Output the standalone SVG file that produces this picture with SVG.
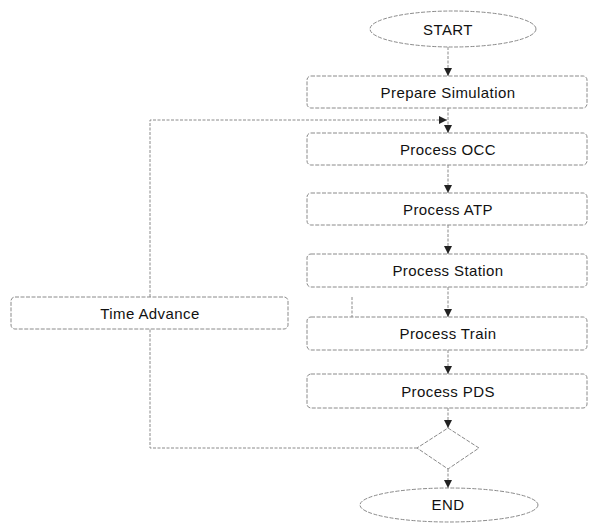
<svg xmlns="http://www.w3.org/2000/svg" width="593" height="525" viewBox="0 0 593 525">
<style>
.shape{fill:#fff;stroke:#8a8a8a;stroke-width:1;stroke-dasharray:4 1.5}
.conn{fill:none;stroke:#8a8a8a;stroke-width:1;stroke-dasharray:3 1.5}
.lbl{font-family:"Liberation Sans",Arial,sans-serif;font-size:15px;letter-spacing:0.4px;fill:#111;text-anchor:middle}
</style>
<defs>
<marker id="ah" viewBox="0 0 8 8" refX="8" refY="4" markerWidth="8" markerHeight="8" markerUnits="userSpaceOnUse" orient="auto">
<path d="M0,0 L8,4 L0,8 Z" fill="#222"/>
</marker>
</defs>
<g id="connectors">
<line class="conn" x1="448" y1="47" x2="448" y2="76" marker-end="url(#ah)"/>
<line class="conn" x1="448" y1="108" x2="448" y2="133" marker-end="url(#ah)"/>
<line class="conn" x1="448" y1="165" x2="448" y2="193" marker-end="url(#ah)"/>
<line class="conn" x1="448" y1="225" x2="448" y2="254" marker-end="url(#ah)"/>
<line class="conn" x1="448" y1="287" x2="448" y2="317" marker-end="url(#ah)"/>
<line class="conn" x1="448" y1="350" x2="448" y2="374" marker-end="url(#ah)"/>
<line class="conn" x1="448" y1="408" x2="448" y2="428" marker-end="url(#ah)"/>
<line class="conn" x1="448" y1="469" x2="448" y2="488" marker-end="url(#ah)"/>
<polyline class="conn" points="417,448 150,448 150,329"/>
<polyline class="conn" points="150,297 150,120 447,120" marker-end="url(#ah)"/>
<line class="conn" x1="352" y1="297" x2="352" y2="317"/>
</g>
<g id="start">
<ellipse class="shape" cx="453" cy="29" rx="83" ry="18"/>
<text class="lbl" x="448" y="35">START</text>
</g>
<g id="prepare">
<rect class="shape" x="307" y="76" width="280" height="32" rx="4"/>
<text class="lbl" x="448" y="97.5">Prepare Simulation</text>
</g>
<g id="occ">
<rect class="shape" x="307" y="133" width="280" height="32" rx="4"/>
<text class="lbl" x="448" y="154.5">Process OCC</text>
</g>
<g id="atp">
<rect class="shape" x="307" y="193" width="280" height="32" rx="4"/>
<text class="lbl" x="448" y="214.5">Process ATP</text>
</g>
<g id="station">
<rect class="shape" x="307" y="254" width="280" height="33" rx="4"/>
<text class="lbl" x="448" y="276">Process Station</text>
</g>
<g id="train">
<rect class="shape" x="307" y="317" width="280" height="33" rx="4"/>
<text class="lbl" x="448" y="339">Process Train</text>
</g>
<g id="pds">
<rect class="shape" x="307" y="374" width="280" height="34" rx="4"/>
<text class="lbl" x="448" y="396.5">Process PDS</text>
</g>
<g id="decision">
<polygon class="shape" points="448,428 479,448 448,469 417,448"/>
</g>
<g id="end">
<ellipse class="shape" cx="449" cy="505" rx="89" ry="17"/>
<text class="lbl" x="448" y="510">END</text>
</g>
<g id="time-advance">
<rect class="shape" x="11" y="297" width="277" height="32" rx="4"/>
<text class="lbl" x="150" y="318.5">Time Advance</text>
</g>
</svg>
